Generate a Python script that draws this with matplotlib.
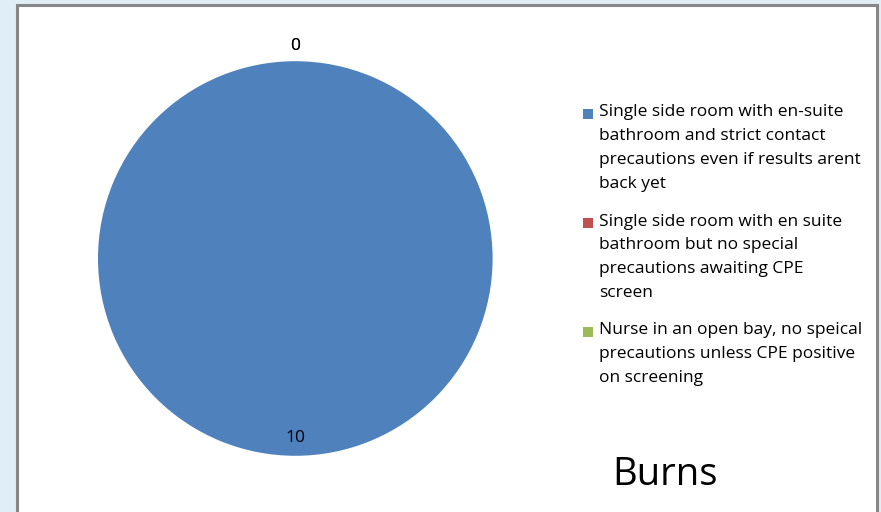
import matplotlib
matplotlib.use("Agg")
import matplotlib.pyplot as plt
from matplotlib.patches import Rectangle
import numpy as np

categories = [
    "Single side room with en-suite\nbathroom and strict contact\nprecautions even if results arent\nback yet",
    "Single side room with en suite\nbathroom but no special\nprecautions awaiting CPE\nscreen",
    "Nurse in an open bay, no speical\nprecautions unless CPE positive\non screening",
]
values = [10, 0, 0]
colors = ["#4F81BD", "#C0504D", "#9BBB59"]
title = "Burns"

W, H = 881, 512
fig = plt.figure(figsize=(W / 100, H / 100), dpi=100)
fig.patch.set_facecolor("#DFEEF7")

# chart frame
frame = Rectangle((17 / W, -0.1), (877 - 17) / W, (H - 5) / H + 0.1,
                  transform=fig.transFigure, facecolor="white",
                  edgecolor="#878787", linewidth=2.2, zorder=-10)
fig.add_artist(frame)

cx, cy, r = 295.3, H - 258.5, 197.3
ax = fig.add_axes([(cx - r) / W, (cy - r) / H, 2 * r / W, 2 * r / H], zorder=5)
ax.set_facecolor("none")
wedges, _ = ax.pie(values, colors=colors, startangle=90, counterclock=False,
                   radius=1.0, wedgeprops=dict(linewidth=0))
ax.set_xlim(-1, 1)
ax.set_ylim(-1, 1)
ax.set_aspect("equal")
ax.axis("off")

lblfont = dict(family=["Open Sans", "DejaVu Sans"], fontsize=12.5, color="#000000")
for w, v in zip(wedges, values):
    mid = np.deg2rad((w.theta1 + w.theta2) / 2)
    rr = 1.075 if v == 0 else 0.91
    ax.text(rr * np.cos(mid), rr * np.sin(mid), f"{v}", ha="center", va="center",
            clip_on=False, **lblfont)

# legend
fs = 12.5
for i, (lab, col) in enumerate(zip(categories, colors)):
    yc = 113.5 + i * 109
    sq = Rectangle((583 / W, 1 - (yc + 5) / H), 10 / W, 10 / H,
                   transform=fig.transFigure, facecolor=col, edgecolor="none", zorder=6)
    fig.add_artist(sq)
    fig.text(599 / W, 1 - (yc - 9) / H, lab, family="Open Sans", fontsize=fs,
             ha="left", va="top", linespacing=1.65, color="#000000", zorder=6)

fig.text(612 / W, 1 - 475 / H, title, family="Open Sans", fontsize=27.5,
         ha="left", va="center", color="#000000")

fig.savefig("out.png", dpi=100, facecolor=fig.get_facecolor())
